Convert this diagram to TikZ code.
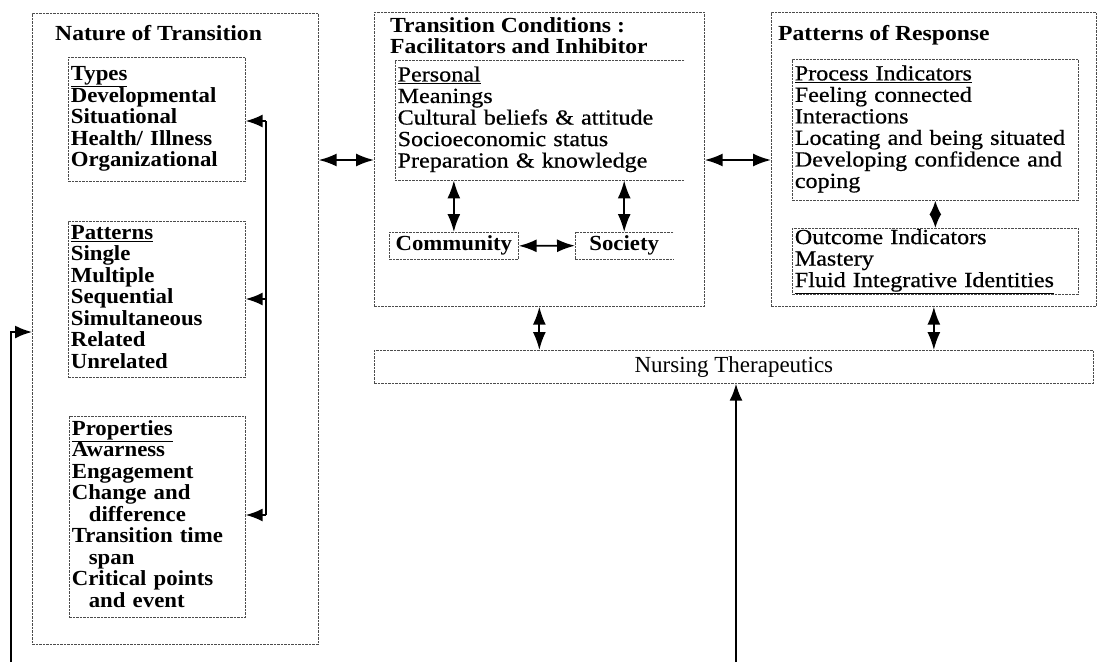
\documentclass[tikz,border=0pt]{standalone}
\usepackage{fontspec}
\setmainfont{Liberation Serif}
\newfontfamily\listb[FakeStretch=1.06]{Liberation Serif}
\newfontfamily\listr[FakeStretch=1.12,FakeBold=0.6]{Liberation Serif}
\newfontfamily\titf[FakeStretch=1.1]{Liberation Serif}
\usetikzlibrary{arrows.meta}
\newcommand\lns[1]{\begin{tabular}{@{}l@{}}#1\end{tabular}}
\begin{document}
\begin{tikzpicture}[x=1pt,y=-1pt,
 bdr/.style={draw=black!70, line width=0.7pt, dash pattern=on 2.5pt off 1pt},
 bx/.style={bdr, rectangle, anchor=north west, inner xsep=2.5pt, inner ysep=0pt, align=left},
 obx/.style={rectangle, anchor=north west, inner xsep=2.5pt, inner ysep=0pt, align=left},
 big/.style={bx, inner sep=0pt},
 bl/.style={font=\listb\bfseries\fontsize{21.5}{21.5}\selectfont},
 rl/.style={font=\listr\fontsize{21.5}{21.5}\selectfont},
 ttl/.style={font=\titf\bfseries\fontsize{21.5}{21.5}\selectfont, inner sep=0pt, align=left},
 conn/.style={line width=1.8pt, line join=miter, -{Latex[length=17pt,width=13pt]}},
 dconn/.style={line width=1.8pt, {Latex[length=18pt,width=13pt]}-{Latex[length=18pt,width=13pt]}},
 dsmall/.style={line width=1.8pt, {Latex[length=14pt,width=12pt]}-{Latex[length=14pt,width=12pt]}},
]
\useasboundingbox (0,0) rectangle (1097,662);
% big boxes
\node[big, minimum width=286pt, minimum height=631pt] (nat) at (32,13) {};
\node[big, minimum width=330pt, minimum height=294pt] (cond) at (374,12) {};
\node[big, minimum width=325pt, minimum height=294pt] (resp) at (771,12) {};
% titles
\node[ttl, anchor=west] (t1) at (55,33) {Nature of Transition};
\node[ttl, anchor=west] (t2) at (390,35.5) {Transition Conditions :\\Facilitators and Inhibitor};
\node[ttl, anchor=west] (t3) at (778,35) {Patterns of Response};
% left column
\node[bx, bl, text width=172pt, minimum height=124pt] (types) at (68,57)
 {\lns{\underline{Types}\\Developmental\\Situational\\Health/ Illness\\Organizational}};
\node[bx, bl, text width=172pt, minimum height=156pt] (patt) at (68,221)
 {\lns{\underline{Patterns}\\Single\\Multiple\\Sequential\\Simultaneous\\Related\\Unrelated}};
\node[bx, bl, text width=171pt, minimum height=201pt] (prop) at (69,416)
 {\lns{\underline{Properties}\\Awarness\\Engagement\\Change and\\\hspace*{17pt}difference\\Transition time\\\hspace*{17pt}span\\Critical points\\\hspace*{17pt}and event}};
% middle column
\node[obx, rl, text width=284pt, minimum height=120pt] (pers) at (395,60)
 {\lns{\underline{Personal}\\Meanings\\Cultural beliefs \& attitude\\Socioeconomic status\\Preparation \& knowledge}};
\draw[bdr] (pers.north east) -- (pers.north west) -- (pers.south west) -- (pers.south east);
\node[bx, bl, minimum width=129pt, minimum height=27pt, align=center] (comm) at (389,232) {Community};
\node[obx, bl, minimum width=98pt, minimum height=27pt, align=center] (soc) at (575,232) {Society};
\draw[bdr] (soc.north east) -- (soc.north west) -- (soc.south west) -- (soc.south east);
% right column
\node[bx, rl, text width=281pt, minimum height=141pt] (proc) at (792,59)
 {\lns{\underline{Process Indicators}\\Feeling connected\\Interactions\\Locating and being situated\\Developing confidence and\\coping}};
\node[bx, rl, text width=281pt, minimum height=66pt] (outc) at (792,228)
 {\lns{Outcome Indicators\\Mastery\\\underline{Fluid Integrative Identities}}};
% nursing
\node[bx, minimum width=719pt, minimum height=33pt, align=center, font=\fontsize{23}{26}\selectfont] (nurs) at (374,350) {Nursing Therapeutics};
% connectors
\coordinate (bt) at (266,121);
\coordinate (bm) at (266,299);
\coordinate (bb) at (266,515);
\draw[line width=1.8pt] (bt) -- (bb);
\draw[conn] (bt) -- (bt -| types.east);
\draw[conn] (bm) -- (bm -| patt.east);
\draw[conn] (bb) -- (bb -| prop.east);
\coordinate (la) at (11,662);
\coordinate (lc) at (11,332);
\draw[conn] (la) -- (lc) -- (lc -| nat.west);
\coordinate (ya) at (0,160);
\draw[dconn] (ya -| nat.east) -- (ya -| cond.west);
\draw[dconn] (ya -| cond.east) -- (ya -| resp.west);
\draw[dconn] (pers.south -| comm.north) -- (comm.north);
\draw[dconn] (pers.south -| soc.north) -- (soc.north);
\draw[dconn] (comm.east) -- (soc.west);
\draw[dconn] (cond.south) -- (cond.south |- nurs.north);
\draw[dconn] (resp.south) -- (resp.south |- nurs.north);
\draw[dsmall] (proc.south) -- (outc.north);
\coordinate (ba) at (736,662);
\draw[conn] (ba) -- (ba |- nurs.south);
\end{tikzpicture}
\end{document}
